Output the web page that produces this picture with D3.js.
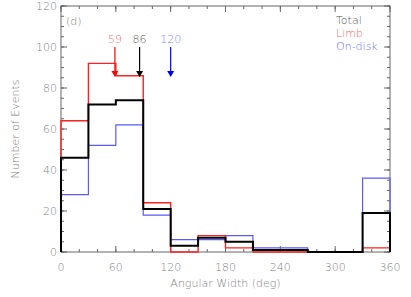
<!DOCTYPE html>
<html>
<head>
<meta charset="utf-8">
<script src="https://cdn.jsdelivr.net/npm/d3@7"></script>
<style>
body { margin: 0; background: #fff; }
text { font-family: "DejaVu Sans", sans-serif; font-weight: 200; }
</style>
</head>
<body>
<svg id="chart" width="411" height="297"></svg>
<script>
// bin edges (deg) and counts per bin
var binEdges = [0, 30, 60, 90, 120, 150, 180, 210, 240, 270, 300, 330, 360];
var totalCounts = [46, 72, 74, 21, 3, 7, 5, 1, 1, 0, 0, 19];
var limbCounts  = [64, 92, 86, 24, 0, 8, 2, 0, 0, 0, 0, 2];
var diskCounts  = [28, 52, 62, 18, 6, 6, 8, 2, 2, 0, 0, 36];

var medianLabels = ["59", "86", "120"];
var medianValues = [59, 86, 120];
var xTicks = [0, 60, 120, 180, 240, 300, 360];
var yTicks = [0, 20, 40, 60, 80, 100, 120];
var legendNames = ["Total", "Limb", "On-disk"];

var svg = d3.select("#chart"),
    M = { top: 6, right: 21, bottom: 45, left: 61 },
    W = 411, H = 297;

var x = d3.scaleLinear().domain([0, 360]).range([M.left, W - M.right]);
var y = d3.scaleLinear().domain([0, 120]).range([H - M.bottom, M.top]);

var axisCol = "#666", textCol = "#808080";

// frame
svg.append("rect")
   .attr("x", x(0)).attr("y", y(120))
   .attr("width", x(360) - x(0)).attr("height", y(0) - y(120))
   .attr("fill", "none").attr("stroke", axisCol).attr("stroke-width", 1);

// ticks on all four sides (pointing inward)
function ticksX(vals, len) {
    vals.forEach(function(v) {
        svg.append("line").attr("x1", x(v)).attr("x2", x(v))
           .attr("y1", y(0)).attr("y2", y(0) - len).attr("stroke", axisCol);
        svg.append("line").attr("x1", x(v)).attr("x2", x(v))
           .attr("y1", y(120)).attr("y2", y(120) + len).attr("stroke", axisCol);
    });
}
function ticksY(vals, len) {
    vals.forEach(function(v) {
        svg.append("line").attr("x1", x(0)).attr("x2", x(0) + len)
           .attr("y1", y(v)).attr("y2", y(v)).attr("stroke", axisCol);
        svg.append("line").attr("x1", x(360)).attr("x2", x(360) - len)
           .attr("y1", y(v)).attr("y2", y(v)).attr("stroke", axisCol);
    });
}
ticksX(d3.range(0, 361, 20), 3);
ticksX(xTicks, 6);
ticksY(d3.range(0, 121, 5), 3);
ticksY(yTicks, 6);

// tick labels
svg.selectAll(".xl").data(xTicks).enter().append("text")
   .attr("x", function(d) { return x(d); })
   .attr("y", y(0) + 19)
   .attr("text-anchor", "middle")
   .attr("font-size", 11)
   .attr("fill", textCol)
   .text(function(d) { return d; });

svg.selectAll(".yl").data(yTicks).enter().append("text")
   .attr("x", x(0) - 4)
   .attr("y", function(d) { return y(d) + 4; })
   .attr("text-anchor", "end")
   .attr("font-size", 11)
   .attr("fill", textCol)
   .text(function(d) { return d; });

svg.append("text")
   .attr("x", (x(0) + x(360)) / 2).attr("y", H - 10)
   .attr("text-anchor", "middle").attr("font-size", 11).attr("fill", textCol)
   .text("Angular Width (deg)");

svg.append("text")
   .attr("transform", "translate(19," + ((y(0) + y(120)) / 2) + ") rotate(-90)")
   .attr("text-anchor", "middle").attr("font-size", 11).attr("fill", textCol)
   .text("Number of Events");

// histogram outlines
function stepLine(counts) {
    var pts = [[binEdges[0], 0]];
    counts.forEach(function(c, i) {
        pts.push([binEdges[i], c]);
        pts.push([binEdges[i + 1], c]);
    });
    pts.push([binEdges[binEdges.length - 1], 0]);
    return d3.line().x(function(d) { return x(d[0]); }).y(function(d) { return y(d[1]); })(pts);
}

svg.append("path").attr("d", stepLine(diskCounts))
   .attr("fill", "none").attr("stroke", "#5a5aff").attr("stroke-width", 1.2);
svg.append("path").attr("d", stepLine(limbCounts))
   .attr("fill", "none").attr("stroke", "#ff2020").attr("stroke-width", 1.4);
svg.append("path").attr("d", stepLine(totalCounts))
   .attr("fill", "none").attr("stroke", "#000").attr("stroke-width", 2);

// median arrows
var arrowCols = ["#ff0000", "#000000", "#0000ff"];
var labelCols = ["#ff7070", "#555555", "#8080ff"];
medianValues.forEach(function(v, i) {
    var xv = x(v);
    svg.append("line").attr("x1", xv).attr("x2", xv)
       .attr("y1", 47).attr("y2", 72)
       .attr("stroke", arrowCols[i]).attr("stroke-width", 1.2);
    svg.append("path")
       .attr("d", "M" + (xv - 3.5) + ",71L" + (xv + 3.5) + ",71L" + xv + ",77Z")
       .attr("fill", arrowCols[i]);
    svg.append("text").attr("x", xv).attr("y", 43)
       .attr("text-anchor", "middle").attr("font-size", 11)
       .attr("fill", labelCols[i]).text(medianLabels[i]);
});

// panel tag
svg.append("text").attr("x", x(0) + 5).attr("y", 25)
   .attr("font-size", 11).attr("fill", textCol).text("(d)");

// legend
legendNames.forEach(function(n, i) {
    svg.append("text").attr("x", 336).attr("y", 24 + i * 13)
       .attr("font-size", 11).attr("fill", ["#555", "#ff6060", "#7070ff"][i])
       .text(n);
});
</script>
</body>
</html>
